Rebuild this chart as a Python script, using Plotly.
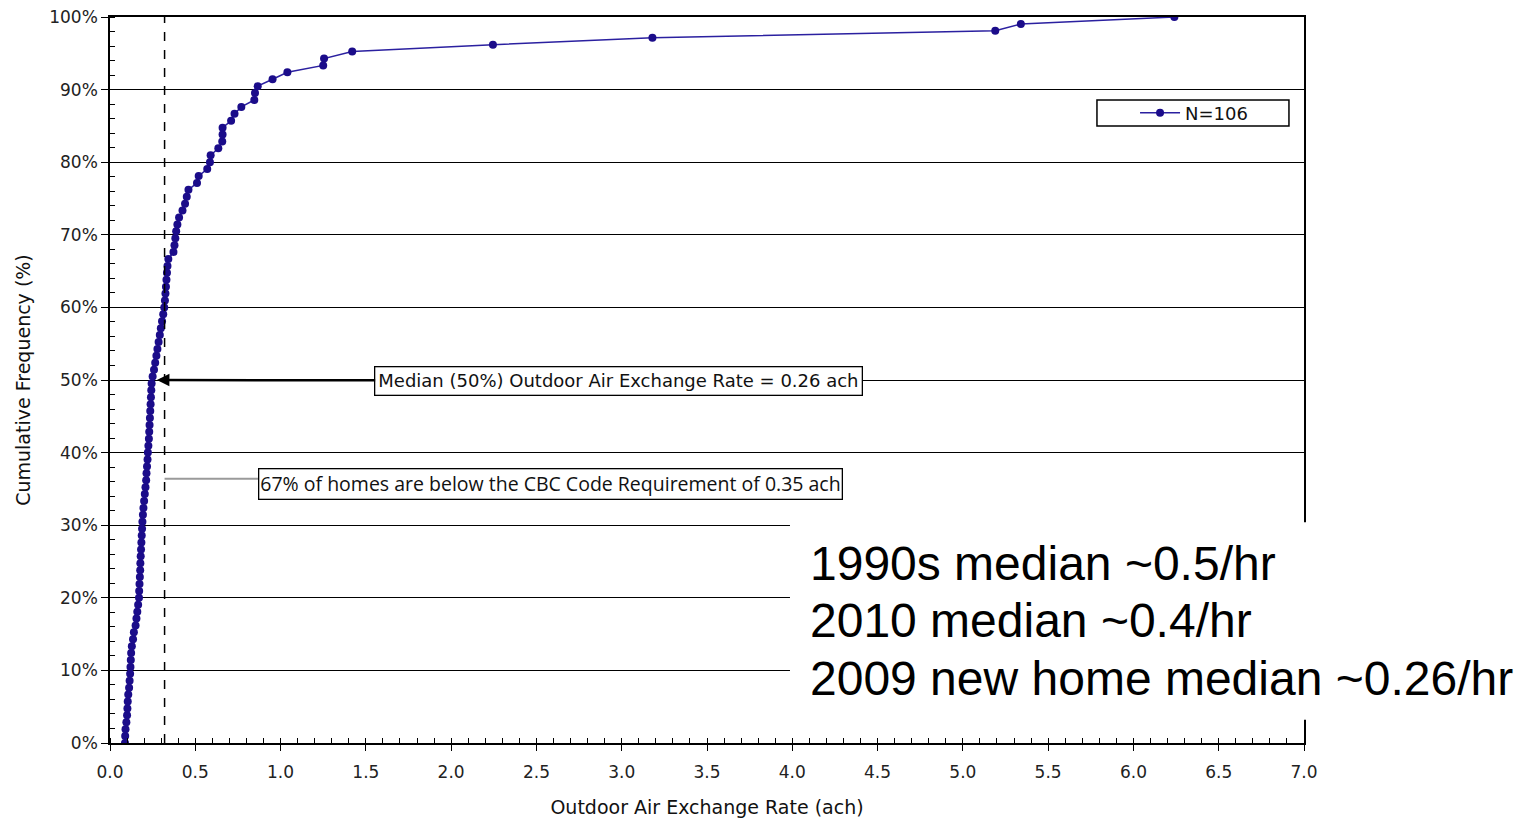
import plotly.graph_objects as go

# Outdoor air exchange rates (ach), sorted, 106 homes
ach = [
    0.088, 0.089, 0.091, 0.096, 0.100, 0.102, 0.104, 0.107, 0.112, 0.115,
    0.118, 0.120, 0.122, 0.124, 0.128, 0.135, 0.140, 0.150, 0.155, 0.160,
    0.165, 0.170, 0.171, 0.173, 0.175, 0.177, 0.178, 0.180, 0.182, 0.184,
    0.186, 0.188, 0.190, 0.193, 0.196, 0.200, 0.204, 0.208, 0.212, 0.214,
    0.217, 0.220, 0.222, 0.225, 0.228, 0.230, 0.232, 0.234, 0.236, 0.238,
    0.240, 0.242, 0.244, 0.250, 0.258, 0.265, 0.272, 0.278, 0.285, 0.292,
    0.298, 0.305, 0.312, 0.318, 0.322, 0.325, 0.328, 0.331, 0.334, 0.337,
    0.342, 0.372, 0.378, 0.383, 0.388, 0.395, 0.405, 0.425, 0.440, 0.450,
    0.460, 0.510, 0.520, 0.570, 0.586, 0.590, 0.635, 0.658, 0.660, 0.660,
    0.710, 0.730, 0.770, 0.846, 0.850, 0.866, 0.953, 1.040, 1.250, 1.255,
    1.420, 2.245, 3.180, 5.190, 5.340, 6.240,
]
n = len(ach)
cum_freq = [100.0 * i / (n - 1) for i in range(n)]

x_ticks = [0.0, 0.5, 1.0, 1.5, 2.0, 2.5, 3.0, 3.5, 4.0, 4.5, 5.0, 5.5, 6.0, 6.5, 7.0]
y_ticks = [0, 10, 20, 30, 40, 50, 60, 70, 80, 90, 100]
y_tick_labels = [f"{v}%" for v in y_ticks]

median_ach = 0.275
code_line_ach = 0.32
notes = ["1990s median ~0.5/hr", "2010 median ~0.4/hr", "2009 new home median ~0.26/hr"]

navy = "#1b0c8a"
tick_font = dict(family="DejaVu Sans", size=17, color="#222")
title_font = dict(family="DejaVu Sans", size=19, color="#111")

fig = go.Figure()
fig.add_trace(go.Scatter(
    x=ach, y=cum_freq, mode="lines+markers", name="N=106",
    line=dict(color="#2b20a0", width=1.5),
    marker=dict(color=navy, size=8),
))

# dashed code requirement line
fig.add_shape(type="line", xref="x", yref="y", x0=code_line_ach, x1=code_line_ach,
              y0=0, y1=100, line=dict(color="black", width=1.5, dash="dash"))

# gray leader line to the CBC note
fig.add_shape(type="line", xref="x", yref="y", x0=code_line_ach, x1=0.8675,
              y0=36.4, y1=36.4, line=dict(color="#9a9a9a", width=2))

# legend frame
fig.add_shape(type="rect", xref="paper", yref="paper", x0=0.8266, x1=0.9874,
              y0=0.8499, y1=0.8857, fillcolor="white",
              line=dict(color="black", width=1.5), layer="above")

# white overlay box for notes
fig.add_shape(type="rect", xref="paper", yref="paper", x0=0.5695, x1=1.25,
              y0=0.032, y1=0.304, fillcolor="white", line=dict(width=0), layer="above")

fig.add_annotation(x=median_ach, y=50, ax=2.984, ay=49.9, xref="x", yref="y",
                   axref="x", ayref="y",
                   text="Median (50%) Outdoor Air Exchange Rate = 0.26 ach",
                   font=dict(family="DejaVu Sans", size=18, color="#111"),
                   bgcolor="white", bordercolor="black", borderwidth=1.3, borderpad=3,
                   showarrow=True, arrowhead=2, arrowsize=1, arrowwidth=2.5,
                   arrowcolor="black", standoff=0)

fig.add_annotation(x=2.582, y=35.7, xref="x", yref="y",
                   text="67% of homes are below the CBC Code Requirement of 0.35 ach",
                   font=dict(family="Open Sans", size=19.5, color="#111"),
                   bgcolor="white", bordercolor="black", borderwidth=1.3, borderpad=1,
                   showarrow=False)

for txt, yy in zip(notes, [0.2479, 0.1694, 0.0895]):
    fig.add_annotation(x=0.5846, y=yy, xref="paper", yref="paper", xanchor="left",
                       yanchor="middle", text=txt, showarrow=False,
                       font=dict(family="Liberation Sans", size=48, color="black"))

fig.update_layout(
    width=1517, height=810,
    margin=dict(l=102, r=221, t=9, b=75, autoexpand=False),
    plot_bgcolor="white", paper_bgcolor="white",
    legend=dict(x=0.8585, y=0.8678, xanchor="left", yanchor="middle",
                orientation="h", borderwidth=0, bgcolor="rgba(0,0,0,0)",
                itemwidth=40,
                font=dict(family="DejaVu Sans", size=18, color="#111")),
    showlegend=True,
)
fig.update_xaxes(
    range=[0, 7], tickvals=x_ticks, tickformat=".1f", tickfont=tick_font,
    showgrid=False, zeroline=False, showline=True, linecolor="black", linewidth=1.5,
    mirror=True, ticks="outside", ticklen=6, tickcolor="black", ticklabelstandoff=7,
    automargin=False, ticklabeloverflow="allow",
    minor=dict(dtick=0.1, ticks="inside", ticklen=5, tickcolor="black", showgrid=False),
    title=dict(text="Outdoor Air Exchange Rate (ach)", font=title_font, standoff=22),
)
fig.update_yaxes(
    range=[0, 100], tickvals=y_ticks, ticktext=y_tick_labels, tickfont=tick_font,
    showgrid=True, gridcolor="black", gridwidth=1.3, zeroline=False,
    showline=True, linecolor="black", linewidth=1.5, mirror=True,
    ticks="outside", ticklen=7, tickcolor="black", automargin=False,
    ticklabeloverflow="allow",
    minor=dict(dtick=2, ticks="inside", ticklen=5, tickcolor="black", showgrid=False),
    title=dict(text="Cumulative Frequency (%)", font=title_font, standoff=14),
)

fig.write_html("out.html", config={"displayModeBar": False})
